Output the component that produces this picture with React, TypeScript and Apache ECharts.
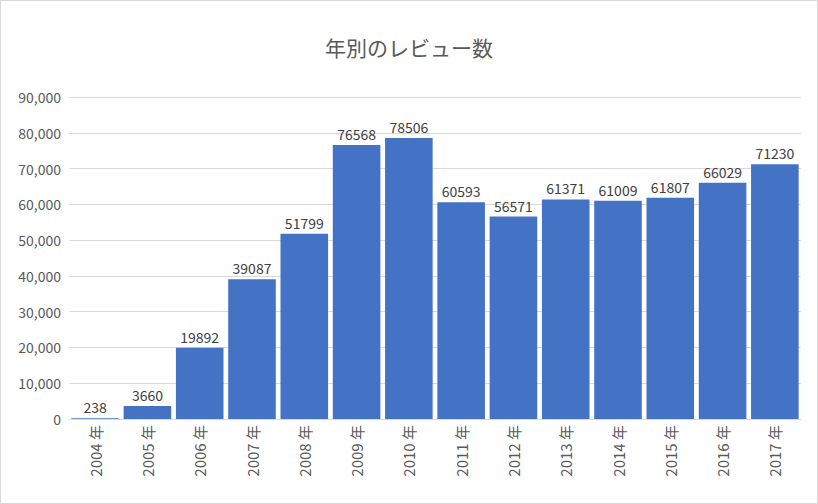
import React, { useEffect, useRef } from "react";
import * as echarts from "echarts";

const categories = ["2004 年","2005 年","2006 年","2007 年","2008 年","2009 年","2010 年","2011 年","2012 年","2013 年","2014 年","2015 年","2016 年","2017 年"];
const reviews = [238,3660,19892,39087,51799,76568,78506,60593,56571,61371,61009,61807,66029,71230];

export default function App() {
  const ref = useRef<HTMLDivElement>(null);
  useEffect(() => {
    document.body.style.margin = "0";
    const chart = echarts.init(ref.current!, null, { renderer: "svg" });
    const font = "'Noto Sans CJK JP', 'Noto Sans', sans-serif";
    chart.setOption({
      animation: false,
      backgroundColor: "#ffffff",
      title: { text: "年別のレビュー数", left: "center", top: 30, textStyle: { fontSize: 21, fontWeight: "normal", color: "#595959", fontFamily: font } },
      grid: { left: 68, right: 16, top: 96, bottom: 84 },
      xAxis: {
        type: "category", data: categories,
        axisLine: { lineStyle: { color: "#d9d9d9" } }, axisTick: { show: false },
        axisLabel: { rotate: 90, color: "#595959", fontSize: 15, fontFamily: font, margin: 6 },
      },
      yAxis: {
        type: "value", min: 0, max: 90000, interval: 10000,
        axisLabel: { color: "#595959", fontSize: 14, fontFamily: font, margin: 8 },
        splitLine: { lineStyle: { color: "#d9d9d9" } },
      },
      series: [{
        type: "bar", data: reviews, barCategoryGap: "9%",
        itemStyle: { color: "#4472c4" },
        label: { show: true, position: "top", color: "#404040", fontSize: 14, fontFamily: font, distance: 4 },
      }],
    });
    return () => chart.dispose();
  }, []);
  return <div ref={ref} style={{ width: 816, height: 502, border: "1px solid #d9d9d9" }} />;
}
